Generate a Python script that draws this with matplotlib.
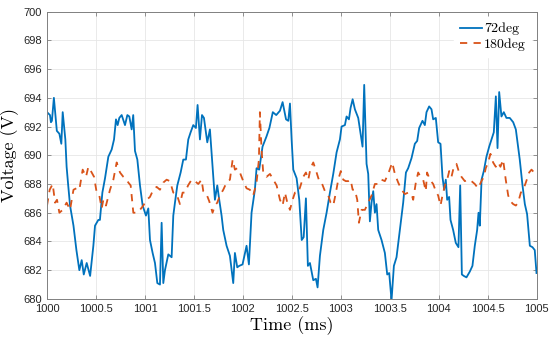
import matplotlib
matplotlib.use("Agg")
import matplotlib.pyplot as plt
from matplotlib.ticker import FuncFormatter, MultipleLocator

# 72deg series (time offset from 1000 ms, voltage)
t_72 = [0.0, 0.03, 0.04, 0.05, 0.07, 0.1, 0.126, 0.146, 0.16, 0.187, 0.2, 0.215,
        0.235, 0.27, 0.30, 0.33, 0.354, 0.375, 0.405, 0.44, 0.473, 0.49, 0.524,
        0.54, 0.565, 0.592, 0.626, 0.66, 0.684, 0.704, 0.721, 0.738, 0.762,
        0.796, 0.82, 0.84, 0.864, 0.88, 0.898, 0.922, 0.949, 0.976, 1.01, 1.034,
        1.051, 1.078, 1.102, 1.126, 1.153, 1.17, 1.187, 1.204, 1.238, 1.272,
        1.289, 1.306, 1.33, 1.364, 1.391, 1.418, 1.442, 1.466, 1.493, 1.52,
        1.537, 1.561, 1.582, 1.602, 1.636, 1.663, 1.68, 1.714, 1.738, 1.758,
        1.782, 1.799, 1.833, 1.867, 1.901, 1.918, 1.942, 1.962, 1.996, 2.037,
        2.061, 2.088, 2.122, 2.139, 2.166, 2.20, 2.24, 2.27, 2.305, 2.34,
        2.378, 2.405, 2.44, 2.463, 2.48, 2.497, 2.514, 2.548, 2.575, 2.6,
        2.62, 2.643, 2.663, 2.684, 2.718, 2.745, 2.762, 2.786, 2.82, 2.854,
        2.888, 2.922, 2.956, 2.99, 3.007, 3.041, 3.058, 3.082, 3.099, 3.12,
        3.143, 3.177, 3.197, 3.221, 3.238, 3.262, 3.279, 3.296, 3.313, 3.33,
        3.347, 3.364, 3.381, 3.415, 3.449, 3.473, 3.493, 3.517, 3.541, 3.568,
        3.602, 3.636, 3.664, 3.687, 3.721, 3.755, 3.779, 3.799, 3.833, 3.857,
        3.874, 3.901, 3.925, 3.942, 3.969, 3.993, 4.017, 4.037, 4.054, 4.071,
        4.085, 4.105, 4.119, 4.146, 4.173, 4.20, 4.218, 4.235, 4.255, 4.282,
        4.316, 4.343, 4.367, 4.391, 4.405, 4.418, 4.436, 4.459, 4.486, 4.514,
        4.537, 4.561, 4.582, 4.599, 4.616, 4.639, 4.663, 4.69, 4.724, 4.759,
        4.786, 4.809, 4.826, 4.854, 4.878, 4.901, 4.929, 4.956, 4.979, 4.997]
v_72 = [693.0, 692.8, 692.3, 692.4, 694.0, 691.7, 691.5, 690.8, 693.0, 691.1,
        689.2, 688.0, 686.5, 685.1, 683.4, 682.0, 682.7, 681.7, 682.5, 681.6,
        683.7, 685.1, 685.5, 685.5, 687.4, 688.4, 689.9, 690.4, 691.1, 692.5,
        692.1, 692.6, 692.8, 692.1, 692.8, 692.7, 691.8, 692.8, 690.3, 689.7,
        687.9, 686.5, 685.8, 686.3, 684.1, 683.2, 682.5, 681.1, 681.0, 685.3,
        681.1, 682.0, 683.1, 682.9, 685.8, 686.7, 687.9, 688.8, 689.7, 689.7,
        691.1, 691.6, 692.1, 691.9, 693.5, 691.1, 692.8, 692.6, 690.9, 691.8,
        690.2, 686.9, 687.9, 686.9, 685.8, 684.8, 683.7, 683.0, 681.1, 683.2,
        682.2, 682.3, 682.4, 683.7, 682.4, 686.0, 687.6, 689.1, 689.0, 690.6,
        691.3, 691.9, 693.0, 692.8, 693.1, 693.7, 692.5, 692.4, 693.6, 691.1,
        689.0, 688.4, 686.9, 684.1, 684.3, 687.0, 682.3, 682.5, 681.3, 681.4,
        680.8, 683.0, 684.8, 686.0, 687.4, 688.7, 690.2, 691.1, 692.0, 692.1,
        692.7, 692.5, 693.3, 693.9, 693.2, 692.6, 691.7, 690.6, 694.9, 689.4,
        688.7, 685.4, 686.7, 687.5, 686.0, 686.6, 684.8, 684.1, 683.2, 681.7,
        681.8, 679.9, 682.3, 682.9, 684.8, 686.7, 688.8, 689.1, 689.8, 690.8,
        691.0, 691.9, 692.4, 692.1, 693.0, 693.4, 693.2, 692.5, 692.6, 690.9,
        690.8, 688.5, 687.6, 688.3, 686.9, 687.1, 685.5, 684.8, 683.9, 683.6,
        687.9, 681.7, 681.6, 681.5, 681.9, 682.3, 683.7, 684.8, 686.0, 685.1,
        688.3, 688.9, 689.9, 690.6, 691.1, 691.6, 694.1, 690.5, 694.4, 692.7,
        693.0, 692.6, 692.6, 692.3, 691.8, 690.6, 689.7, 687.9, 686.6, 685.9,
        683.7, 683.6, 683.4, 681.8]

# 180deg series
t_180 = [0.0, 0.027, 0.058, 0.082, 0.102, 0.126, 0.16, 0.2, 0.235, 0.27, 0.30,
         0.33, 0.364, 0.398, 0.422, 0.456, 0.48, 0.507, 0.534, 0.558, 0.575,
         0.602, 0.643, 0.677, 0.711, 0.745, 0.779, 0.813, 0.83, 0.854, 0.881,
         0.92, 0.949, 0.983, 1.017, 1.051, 1.085, 1.119, 1.153, 1.187, 1.221,
         1.255, 1.289, 1.323, 1.357, 1.384, 1.408, 1.44, 1.476, 1.51, 1.544,
         1.578, 1.595, 1.622, 1.656, 1.69, 1.714, 1.738, 1.765, 1.799, 1.833,
         1.867, 1.895, 1.918, 1.942, 1.969, 2.003, 2.037, 2.071, 2.105, 2.139,
         2.163, 2.173, 2.19, 2.207, 2.241, 2.276, 2.31, 2.344, 2.378, 2.405,
         2.429, 2.453, 2.48, 2.507, 2.531, 2.565, 2.589, 2.616, 2.643, 2.667,
         2.69, 2.718, 2.752, 2.779, 2.803, 2.837, 2.871, 2.895, 2.922, 2.949,
         2.973, 2.999, 3.024, 3.05, 3.075, 3.099, 3.12, 3.143, 3.167, 3.184,
         3.211, 3.245, 3.279, 3.313, 3.347, 3.381, 3.415, 3.449, 3.483, 3.524,
         3.551, 3.585, 3.619, 3.653, 3.687, 3.721, 3.738, 3.765, 3.789, 3.813,
         3.84, 3.867, 3.88, 3.908, 3.942, 3.969, 3.993, 4.017, 4.037, 4.061,
         4.085, 4.106, 4.129, 4.153, 4.18, 4.207, 4.231, 4.265, 4.299, 4.333,
         4.367, 4.401, 4.435, 4.459, 4.479, 4.503, 4.527, 4.554, 4.581, 4.605,
         4.629, 4.656, 4.683, 4.708, 4.731, 4.759, 4.786, 4.809, 4.837, 4.861,
         4.888, 4.922, 4.946, 4.973, 4.997]
v_180 = [686.5, 687.6, 688.0, 686.7, 686.9, 686.0, 686.2, 686.7, 686.2, 687.6,
         687.7, 687.6, 689.0, 688.5, 689.2, 688.8, 688.5, 687.4, 687.2, 686.3,
         686.9, 686.5, 687.6, 688.3, 689.5, 688.8, 688.5, 688.3, 688.1, 687.9,
         686.0, 686.0, 686.2, 686.5, 686.9, 687.1, 687.6, 687.8, 687.6, 688.1,
         688.3, 688.2, 687.4, 687.3, 686.6, 687.4, 687.4, 687.9, 688.3, 688.2,
         688.0, 688.3, 687.5, 687.4, 686.8, 686.0, 686.5, 686.7, 687.2, 687.6,
         688.1, 688.3, 689.7, 689.0, 689.1, 688.8, 688.2, 687.7, 687.6, 687.2,
         688.1, 689.7, 693.0, 690.4, 688.8, 688.5, 688.7, 688.3, 687.9, 686.9,
         686.5, 687.4, 686.7, 686.2, 686.9, 687.4, 687.4, 687.9, 688.5, 688.8,
         688.3, 689.1, 689.5, 688.8, 688.2, 688.1, 687.5, 687.2, 686.7, 686.5,
         687.4, 688.3, 688.9, 688.3, 688.2, 688.2, 688.3, 687.6, 687.6, 686.9,
         685.3, 686.2, 686.2, 686.7, 687.2, 688.0, 688.0, 688.3, 688.2, 688.7,
         689.5, 688.7, 688.1, 687.6, 687.3, 687.4, 687.3, 686.9, 688.1, 688.8,
         688.5, 688.3, 687.5, 688.8, 688.3, 688.0, 687.5, 687.2, 686.5, 687.2,
         687.9, 688.3, 688.9, 688.5, 689.2, 689.4, 688.8, 688.5, 688.2, 688.3,
         688.2, 688.0, 687.7, 688.2, 688.5, 689.1, 689.5, 690.1, 689.5, 689.2,
         689.5, 689.2, 689.7, 688.3, 687.2, 686.8, 686.6, 686.5, 686.7, 687.4,
         687.6, 688.1, 688.8, 689.0, 688.8, 689.1]

t0 = 1000
x_72 = [t0 + t for t in t_72]
x_180 = [t0 + t for t in t_180]

fig = plt.figure(figsize=(5.5, 3.42), dpi=100)
ax = fig.add_axes([0.0855, 0.126, 0.8905, 0.84])

ax.plot(x_72, v_72, color="#0072BD", lw=1.3, label="72deg")
ax.plot(x_180, v_180, color="#D95319", lw=1.3, ls=(0, (4, 3.5)), label="180deg")

ax.set_xlim(1000, 1005)
ax.set_ylim(680, 700)
ax.xaxis.set_major_locator(MultipleLocator(0.5))
ax.yaxis.set_major_locator(MultipleLocator(2))
ax.xaxis.set_major_formatter(FuncFormatter(lambda v, p: "%g" % v))
ax.grid(True, color="#e6e6e6", lw=0.6)
ax.set_axisbelow(True)
ax.tick_params(direction="in", top=True, right=True, labelsize=8,
               labelcolor="#262626", color="#808080", length=3, width=0.6)
for lbl in ax.get_xticklabels() + ax.get_yticklabels():
    lbl.set_fontfamily("Liberation Sans")
for s in ax.spines.values():
    s.set_color("#808080")
    s.set_linewidth(0.7)

ax.set_xlabel("Time (ms)", fontfamily="cmr10", fontsize=13, labelpad=2)
ax.set_ylabel("Voltage (V)", fontfamily="cmr10", fontsize=13, labelpad=3)

leg = ax.legend(loc="upper right", prop={"family": "cmr10", "size": 10},
                frameon=True, handlelength=1.6, handletextpad=0.15,
                borderaxespad=0.4, labelspacing=0.2, fancybox=False)
leg.get_frame().set_edgecolor("white")
leg.get_frame().set_alpha(1)

fig.savefig("out.png", dpi=100)
